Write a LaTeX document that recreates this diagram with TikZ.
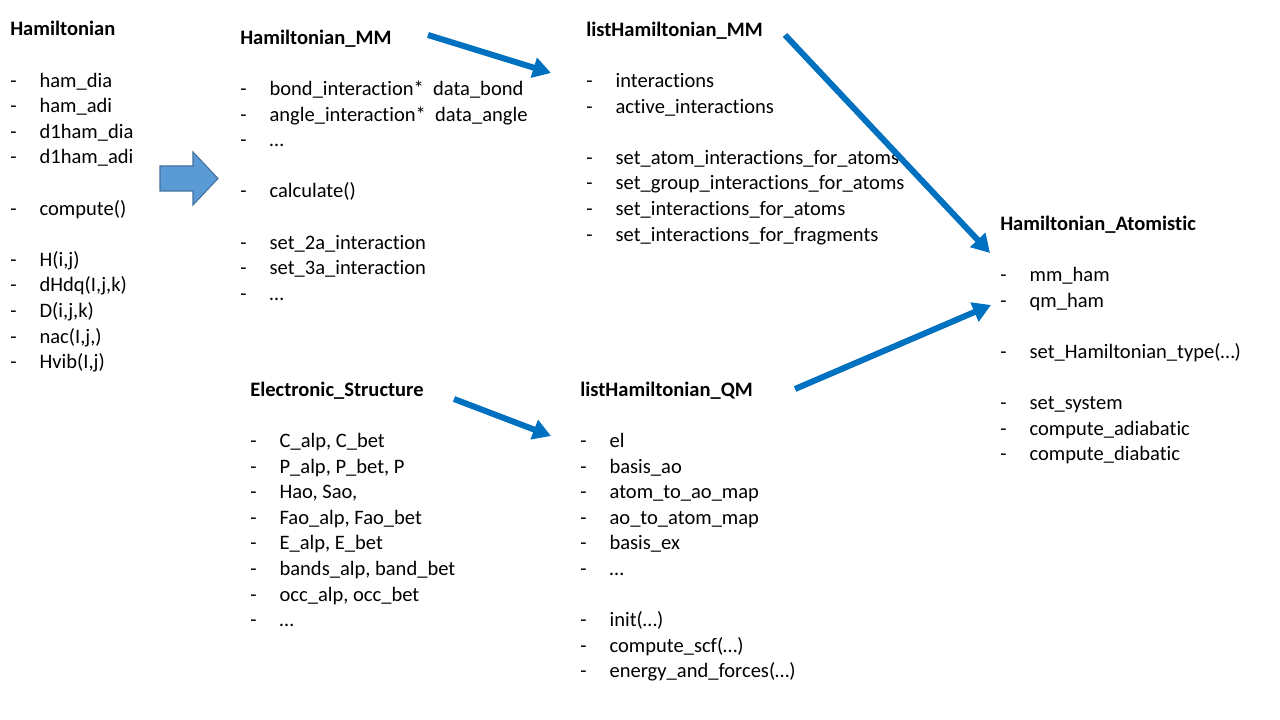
\documentclass[tikz,border=0pt]{standalone}
\usepackage{fontspec}
\setmainfont{Carlito}[Ligatures=NoCommon]
\usepackage{xcolor}
\usepackage{tikz}
\usetikzlibrary{arrows.meta,positioning,calc}

\definecolor{arrowblue}{HTML}{0070C0}
\definecolor{blockblue}{HTML}{5B9BD5}
\definecolor{blockedge}{HTML}{41719C}
\newcommand{\itm}[1]{\makebox[22pt][l]{-}#1}

\begin{document}
\begin{tikzpicture}[x=0.75pt, y=-0.75pt,
    every node/.style={font=\fontsize{15.4}{19.2}\selectfont},
    classbox/.style={anchor=north west, inner sep=0pt, align=left},
    flow/.style={draw=arrowblue, line width=4.5pt, -{Triangle[length=13.5pt, width=15pt]}}]
    \fill[white] (0,0) rectangle (1280,720);
    \useasboundingbox (0,0) rectangle (1280,720);

    \node (ham) [classbox] at (10,17.8) {\strut\textbf{Hamiltonian}\\ \strut\\
      \itm{ham\_dia}\\ \itm{ham\_adi}\\ \itm{d1ham\_dia}\\ \itm{d1ham\_adi}\\ \strut\\
      \itm{compute()}\\ \strut\\
      \itm{H(i,j)}\\ \itm{dHdq(I,j,k)}\\ \itm{D(i,j,k)}\\ \itm{nac(I,j,)}\\ \itm{Hvib(I,j)}};
    \node (hamMM) [classbox] at (240,26.1) {\strut\textbf{Hamiltonian\_MM}\\ \strut\\
      \itm{bond\_interaction* \ data\_bond}\\ \itm{angle\_interaction* \ data\_angle}\\ \itm{…}\\ \strut\\
      \itm{calculate()}\\ \strut\\
      \itm{set\_2a\_interaction}\\ \itm{set\_3a\_interaction}\\ \itm{…}};
    \node (listMM) [classbox] at (586,18.1) {\strut\textbf{listHamiltonian\_MM}\\ \strut\\
      \itm{interactions}\\ \itm{active\_interactions}\\ \strut\\
      \itm{set\_atom\_interactions\_for\_atoms}\\ \itm{set\_group\_interactions\_for\_atoms}\\
      \itm{set\_interactions\_for\_atoms}\\ \itm{set\_interactions\_for\_fragments}};
    \node (hamAtom) [classbox] at (1000,212.1) {\strut\textbf{Hamiltonian\_Atomistic}\\ \strut\\
      \itm{mm\_ham}\\ \itm{qm\_ham}\\ \strut\\
      \itm{set\_Hamiltonian\_type(…)}\\ \strut\\
      \itm{set\_system}\\ \itm{compute\_adiabatic}\\ \itm{compute\_diabatic}};
    \node (elStruct) [classbox] at (250,378.1) {\strut\textbf{Electronic\_Structure}\\ \strut\\
      \itm{C\_alp, C\_bet}\\ \itm{P\_alp, P\_bet, P}\\ \itm{Hao, Sao,}\\ \itm{Fao\_alp, Fao\_bet}\\
      \itm{E\_alp, E\_bet}\\ \itm{bands\_alp, band\_bet}\\ \itm{occ\_alp, occ\_bet}\\ \itm{…}};
    \node (listQM) [classbox] at (580,378.1) {\strut\textbf{listHamiltonian\_QM}\\ \strut\\
      \itm{el}\\ \itm{basis\_ao}\\ \itm{atom\_to\_ao\_map}\\ \itm{ao\_to\_atom\_map}\\ \itm{basis\_ex}\\ \itm{…}\\ \strut\\
      \itm{init(…)}\\ \itm{compute\_scf(…)}\\ \itm{energy\_and\_forces(…)}};

    \draw[fill=blockblue, draw=blockedge, line width=0.8pt] (160,166) -- (193,166) -- (193,152) -- (218,178.5)
      -- (193,205) -- (193,191) -- (160,191) -- cycle;

    \coordinate (mm out) at (428,35);
    \coordinate (listMM in) at (551,73);
    \coordinate (listMM out) at (785,35);
    \coordinate (atom in mm) at (990,253);
    \coordinate (listQM out) at (795,389);
    \coordinate (atom in qm) at (991,305);
    \coordinate (el out) at (454,399);
    \coordinate (listQM in) at (551,436);
    \draw[flow] (mm out) -- (listMM in);
    \draw[flow] (listMM out) -- (atom in mm);
    \draw[flow] (listQM out) -- (atom in qm);
    \draw[flow] (el out) -- (listQM in);
  \end{tikzpicture}
\end{document}
